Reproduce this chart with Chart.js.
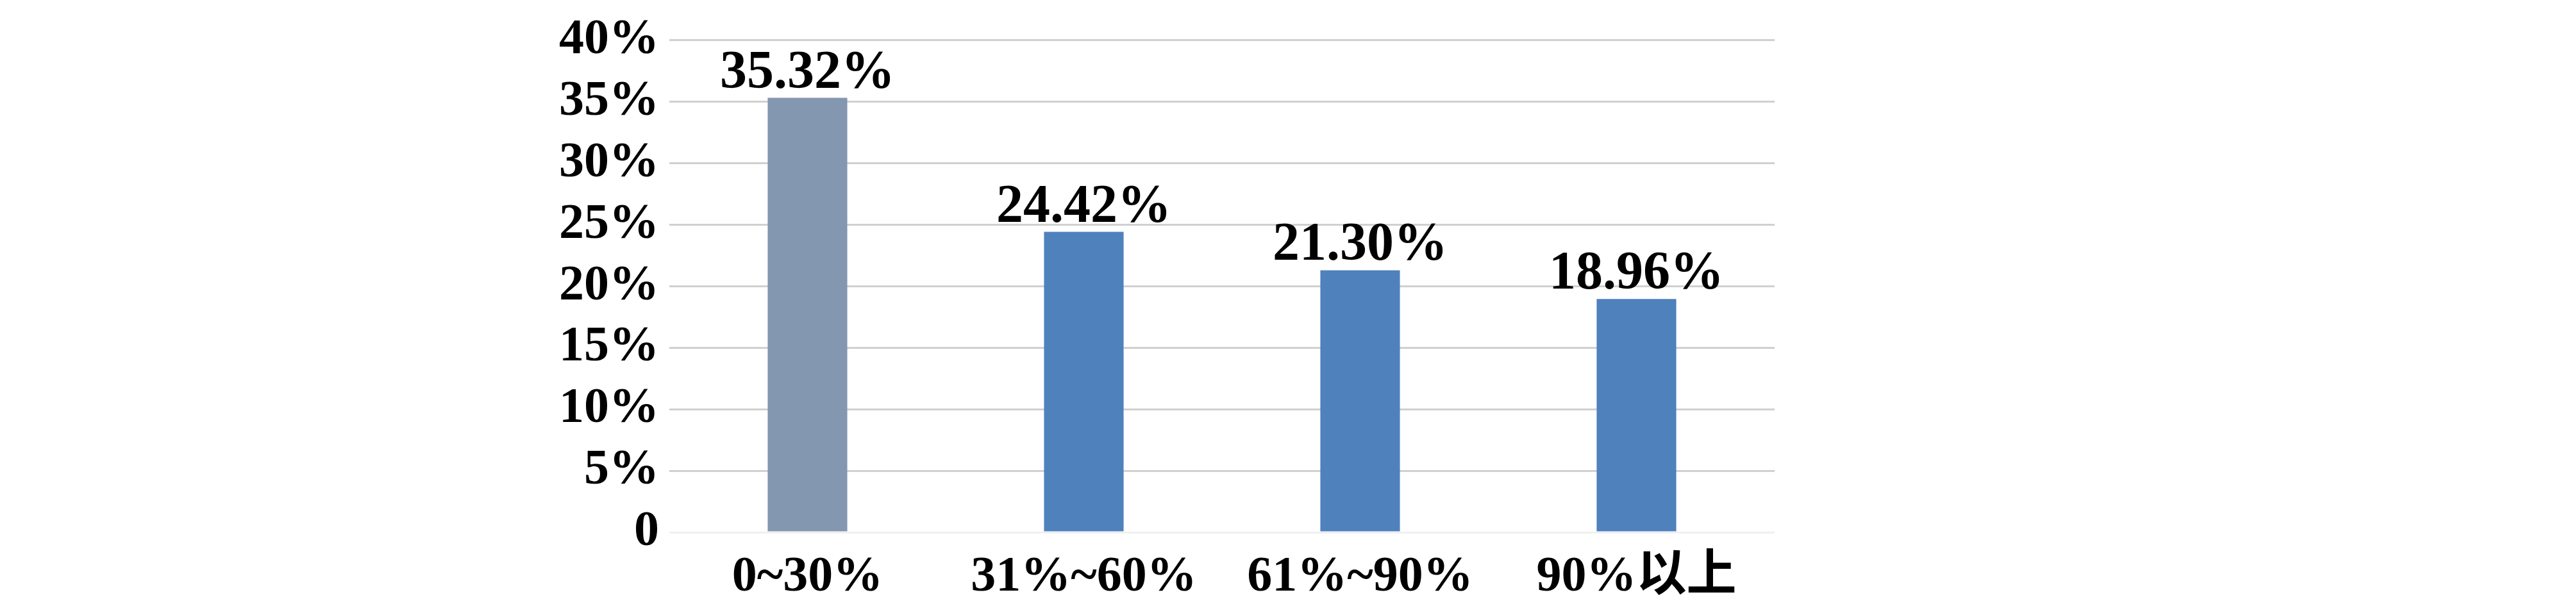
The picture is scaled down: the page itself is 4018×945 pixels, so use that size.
<!DOCTYPE html>
<html>
<head>
<meta charset="utf-8">
<script src="https://cdn.jsdelivr.net/npm/chart.js@4.4.0/dist/chart.umd.min.js"></script>
<style>
  html, body { margin: 0; padding: 0; background: #fff; }
  #wrap { width: 4018px; height: 945px; }
</style>
</head>
<body>
<div id="wrap"><canvas id="barChart" width="4018" height="945"></canvas></div>
<script>
// data
const categories = ["0~30%", "31%~60%", "61%~90%", "90%以上"];
const shares = [35.32, 24.42, 21.30, 18.96];
const shareLabels = ["35.32%", "24.42%", "21.30%", "18.96%"];
const barColors = ["#8497B0", "#4F81BD", "#4F81BD", "#4F81BD"];

const serif = "'Liberation Serif', 'Times New Roman', 'Noto Sans CJK SC', serif";

// writes the value over each bar
const valueLabels = {
    id: "valueLabels",
    afterDatasetsDraw(chart) {
        const ctx = chart.ctx;
        const meta = chart.getDatasetMeta(0);
        ctx.save();
        ctx.font = "bold 84px " + serif;
        ctx.fillStyle = "#000";
        ctx.textAlign = "center";
        ctx.textBaseline = "alphabetic";
        meta.data.forEach((bar, i) => {
            ctx.fillText(shareLabels[i], bar.x, bar.y - 16);
        });
        ctx.restore();
    }
};

new Chart("barChart", {
    type: "bar",
    data: {
        labels: categories,
        datasets: [{
            data: shares,
            backgroundColor: barColors,
            borderWidth: 0,
            barPercentage: 0.288,
            categoryPercentage: 1
        }]
    },
    options: {
        responsive: false,
        animation: false,
        layout: {padding: {left: 0, right: 1250, top: 60, bottom: 0}},
        plugins: {
            legend: {display: false},
            tooltip: {enabled: false}
        },
        scales: {
            x: {
                grid: {display: false, drawTicks: false},
                border: {display: false},
                ticks: {
                    color: "#000",
                    padding: 24,
                    autoSkip: false,
                    maxRotation: 0,
                    font: {family: serif, size: 78, weight: "bold"}
                },
                afterFit: (scale) => { scale.height = 115; }
            },
            y: {
                min: 0,
                max: 40,
                grid: {
                    drawTicks: false,
                    lineWidth: 3,
                    color: (c) => c.tick && c.tick.value === 0 ? "#f0f0f0" : "#d0d0d0"
                },
                border: {display: false},
                ticks: {
                    stepSize: 5,
                    autoSkip: false,
                    color: "#000",
                    padding: 16,
                    font: {family: serif, size: 78, weight: "bold"},
                    callback: (v) => v === 0 ? "0" : v + "%"
                },
                afterFit: (scale) => { scale.width = 1044; }
            }
        }
    },
    plugins: [valueLabels]
});
</script>
</body>
</html>
